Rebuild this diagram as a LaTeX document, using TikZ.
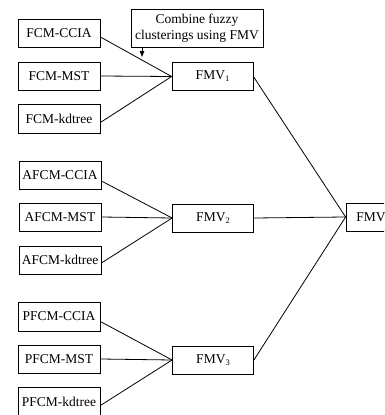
\documentclass[tikz,border=0pt]{standalone}
\usepackage{fontspec}
\setmainfont{Liberation Serif}
\usetikzlibrary{arrows.meta}
\newcommand{\lowsub}[1]{\raisebox{-2pt}{\fontsize{8.5}{9}\selectfont #1}}
\begin{document}
\begin{tikzpicture}[x=1pt,y=-1pt,
  box/.style={draw, line width=0.8pt, inner sep=0pt, minimum height=28pt, font=\fontsize{13.5}{15.5}\selectfont},
  src/.style={box, minimum width=82pt},
  fmv/.style={box, minimum width=81pt},
  conn/.style={line width=0.8pt}]
\useasboundingbox (0,0) rectangle (384,415);
\begin{scope}
\clip (0,0) rectangle (384,415);
% sources
\node[src] (a1) at (59,33) {FCM-CCIA};
\node[src] (a2) at (59,76) {FCM-MST};
\node[src, minimum height=29pt] (a3) at (59,118.5) {FCM-kdtree};
\node[src] (b1) at (60,175) {AFCM-CCIA};
\node[src] (b2) at (60,217) {AFCM-MST};
\node[src] (b3) at (60,260) {AFCM-kdtree};
\node[src, minimum height=29pt] (c1) at (59,316.5) {PFCM-CCIA};
\node[src] (c2) at (59,359) {PFCM-MST};
\node[src, minimum height=29pt] (c3) at (59,401.5) {PFCM-kdtree};
% FMV boxes
\node[fmv] (f1) at (212.5,76.5) {FMV\lowsub{1}};
\node[fmv] (f2) at (213,218) {FMV\lowsub{2}};
\node[fmv] (f3) at (213,360) {FMV\lowsub{3}};
\node[box, minimum width=50pt] (f) at (371,217) {FMV};
% combine label
\node[box, minimum width=132pt, minimum height=38pt, align=center, font=\fontsize{13.5}{15.5}\selectfont] (comb) at (197,28) {Combine fuzzy\\clusterings using FMV};
% connectors
\draw[conn] ([yshift=-4pt]a1.east) -- (f1.west);
\draw[conn] (a2.east) -- (f1.west);
\draw[conn] ([yshift=-4pt]a3.east) -- (f1.west);
\draw[conn] ([yshift=-6pt]b1.east) -- (f2.west);
\draw[conn] (b2.east) -- (f2.west);
\draw[conn] ([yshift=-3pt]b3.east) -- (f2.west);
\draw[conn] ([yshift=-5pt]c1.east) -- (f3.west);
\draw[conn] (c2.east) -- (f3.west);
\draw[conn] ([yshift=-4pt]c3.east) -- (f3.west);
\draw[conn] (f1.east) -- (f.west);
\draw[conn] (f2.east) -- (f.west);
\draw[conn] (f3.east) -- (f.west);
\coordinate (tip) at (142,57);
\draw[conn, -{Triangle[length=6pt,width=4.5pt]}] (comb.south west -| tip) -- (tip);
\end{scope}
\end{tikzpicture}
\end{document}
